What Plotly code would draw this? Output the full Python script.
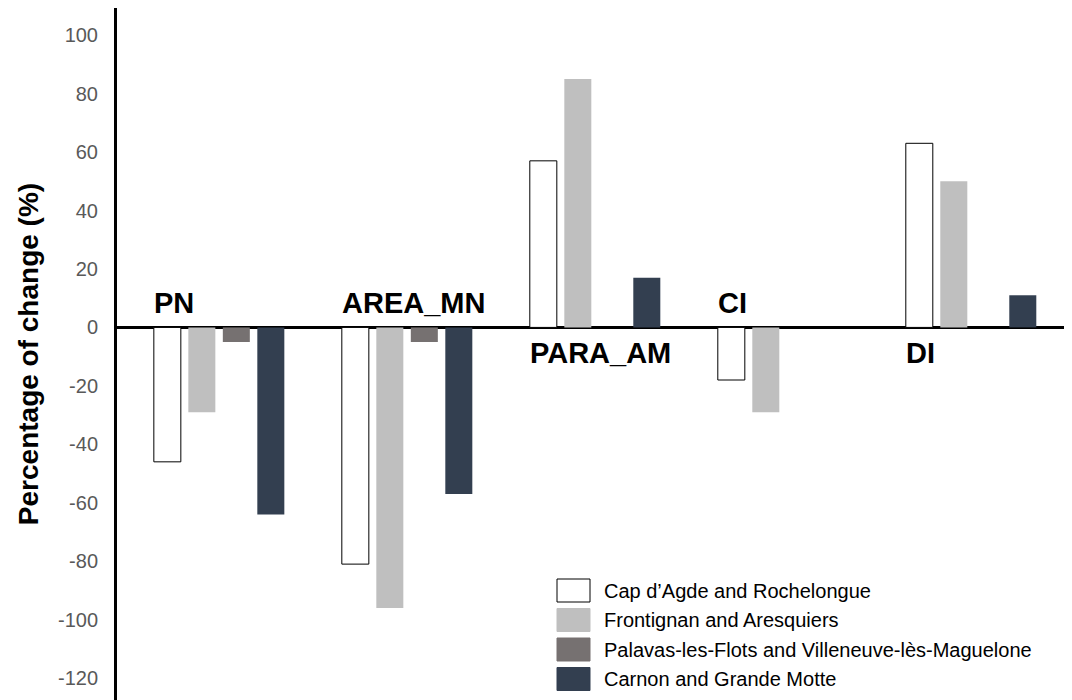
import plotly.graph_objects as go

# ---- data ----
metrics = ["PN", "AREA_MN", "PARA_AM", "CI", "DI"]
site_names = [
    "Cap d\u2019Agde and Rochelongue",
    "Frontignan and Aresquiers",
    "Palavas-les-Flots and Villeneuve-l\u00e8s-Maguelone",
    "Carnon and Grande Motte",
]
cap_agde = [-46, -81, 57, -18, 63]
frontignan = [-29, -96, 85, -29, 50]
palavas = [-5, -5, 0, 0, 0]
carnon = [-64, -57, 17, 0, 11]
y_ticks = [100, 80, 60, 40, 20, 0, -20, -40, -60, -80, -100, -120]

series = [cap_agde, frontignan, palavas, carnon]
fills = ["#FFFFFF", "#BFBFBF", "#767171", "#333F50"]
outlines = ["#000000", "rgba(0,0,0,0)", "rgba(0,0,0,0)", "rgba(0,0,0,0)"]
outline_w = [1, 0, 0, 0]

# page body has an 8px margin; compensate so the plot lands where intended
OFF = 8
W, H = 1064, 692
ML, MR, MT, MB = 109, 0, 0, 0

fig = go.Figure()
for name, vals, fc, lc, lw in zip(site_names, series, fills, outlines, outline_w):
    fig.add_trace(go.Bar(
        x=metrics, y=vals, name=name,
        marker=dict(color=fc, line=dict(color=lc, width=lw)),
        showlegend=False,
    ))

# category labels: above zero line for some, below for others
label_above = [True, True, False, True, False]
annotations = []
for m, above in zip(metrics, label_above):
    annotations.append(dict(
        x=m, y=0, xref="x", yref="y", text="<b>%s</b>" % m, showarrow=False,
        xanchor="left", yanchor="bottom" if above else "top",
        xshift=-67, yshift=6 if above else -8,
        font=dict(family="Liberation Sans, Arial", size=29, color="#000000"),
    ))

# manual legend with large swatches (screen px -> paper coords)
def px_x(v):
    return (v - OFF - ML) / (W - ML - MR)

def px_y(v):
    return (H - MB - (v - OFF)) / (H - MT - MB)

shapes = []
row_centers = [590.5, 620, 649.5, 679]
for name, fc, cy in zip(site_names, fills, row_centers):
    shapes.append(dict(
        type="rect", xref="paper", yref="paper",
        x0=px_x(557), x1=px_x(590), y0=px_y(cy + 11.5), y1=px_y(cy - 11.5),
        fillcolor=fc, line=dict(color="#000000" if fc == "#FFFFFF" else fc, width=1),
    ))
    annotations.append(dict(
        x=px_x(602), y=px_y(cy), xref="paper", yref="paper", text=name,
        showarrow=False, xanchor="left", yanchor="middle",
        font=dict(family="Liberation Sans, Arial", size=20, color="#000000"),
    ))

fig.update_layout(
    width=W, height=H,
    margin=dict(l=ML, r=MR, t=MT, b=MB),
    paper_bgcolor="#FFFFFF", plot_bgcolor="#FFFFFF",
    barmode="group", bargap=0.266, bargroupgap=0.217,
    showlegend=False,
    annotations=annotations, shapes=shapes,
    font=dict(family="Liberation Sans, Arial"),
)
fig.update_xaxes(
    range=[-0.543, 4.537], showticklabels=False, showgrid=False,
    zeroline=False, showline=False, ticks="",
)
fig.update_yaxes(
    range=[-127.5, 109.3], tickvals=y_ticks,
    ticktext=[str(v) for v in y_ticks],
    showgrid=False, showline=True, linecolor="#000000", linewidth=3,
    zeroline=True, zerolinecolor="#000000", zerolinewidth=3,
    ticks="outside", ticklen=12, tickcolor="rgba(0,0,0,0)",
    tickfont=dict(family="Liberation Sans, Arial", size=20, color="#595959"),
    title=dict(text="<b>Percentage of change (%)</b>", standoff=12,
               font=dict(family="Liberation Sans, Arial", size=28, color="#000000")),
)

fig.write_html("out.html")
